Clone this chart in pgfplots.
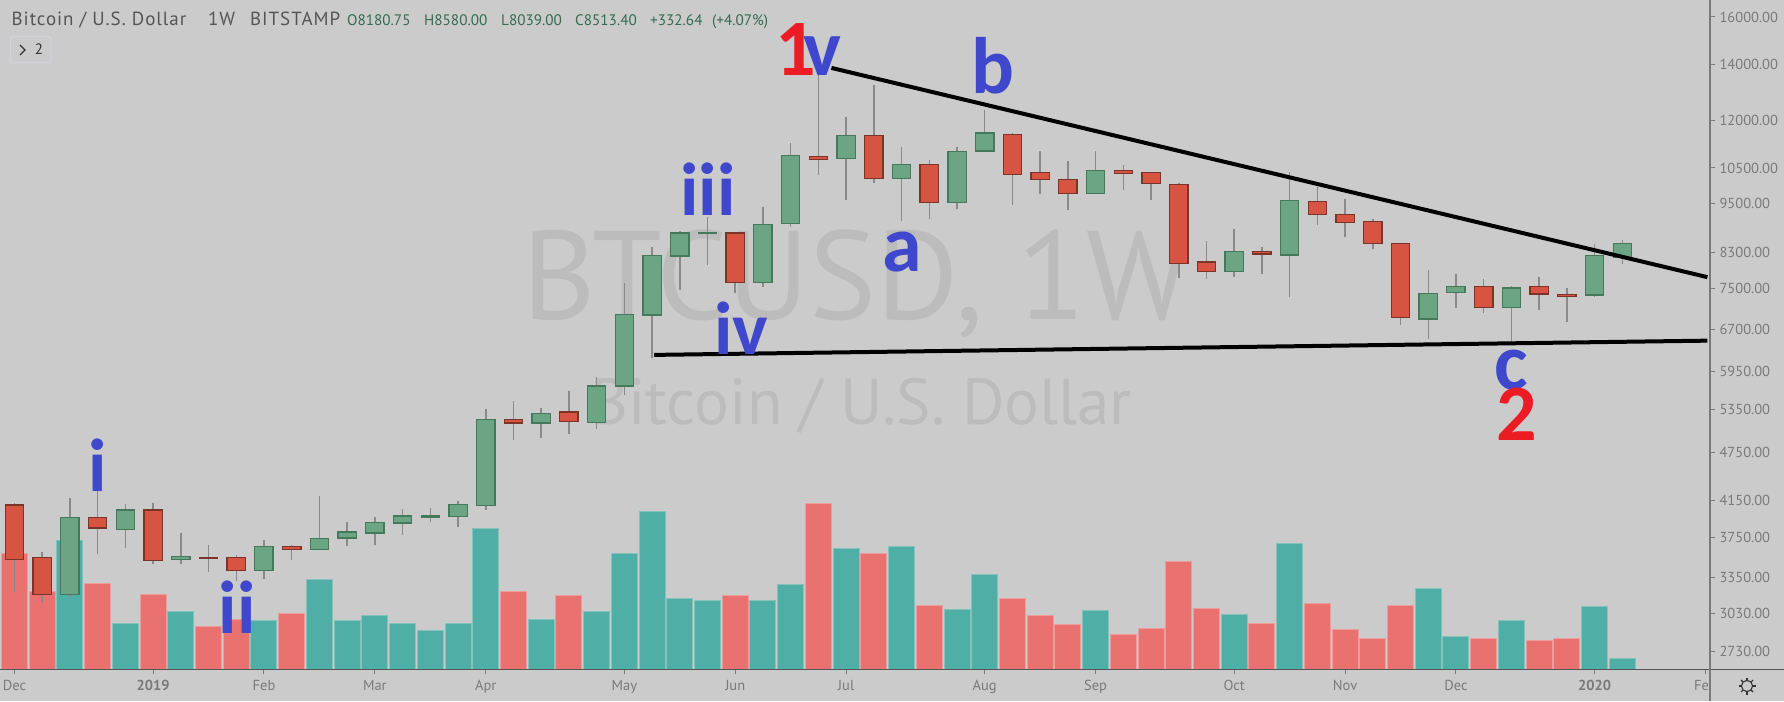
\documentclass[border=0pt]{standalone}
\usepackage{pgfplots}
\usepackage{pgfplotstable}
\usepackage{fontspec}
\pgfplotsset{compat=1.18}
\setmainfont{PT Sans}
\newfontfamily\annot{Carlito}
\newfontfamily\hdrfont[LetterSpace=5]{PT Sans}
\definecolor{bgc}{HTML}{CBCBCB}
\definecolor{upf}{HTML}{6BA583}
\definecolor{upb}{HTML}{44795B}
\definecolor{dnf}{HTML}{D75442}
\definecolor{dnb}{HTML}{7A3428}
\definecolor{wick}{HTML}{8A8A8C}
\definecolor{volt}{HTML}{4FAEA6}
\definecolor{volte}{HTML}{84C2BC}
\definecolor{volr}{HTML}{E97270}
\definecolor{volre}{HTML}{EE9C9A}
\definecolor{txt}{HTML}{7A7A7A}
\definecolor{hdr}{HTML}{555555}
\definecolor{hdg}{HTML}{356B4E}
\definecolor{wm}{HTML}{BCBCBC}
\definecolor{ablue}{HTML}{3F48CC}
\definecolor{ared}{HTML}{ED1C24}
\definecolor{boxc}{HTML}{D3D3DC}
\pgfplotstableread{
i O H L C
0 4104 4130 3219 3526
1 3546 3599 3119 3199
2 3199 4181 3178 3965
3 3965 4319 3576 3848
4 3834 4111 3637 4047
5 4047 4126 3478 3517
6 3526 3792 3478 3556
7 3546 3674 3404 3537
8 3546 3569 3323 3420
9 3420 3725 3335 3657
10 3657 3674 3523 3626
11 3626 4208 3626 3736
12 3743 3913 3664 3806
13 3795 3965 3674 3910
14 3903 4054 3777 3980
15 3968 4066 3913 3980
16 3972 4149 3859 4107
17 4099 5358 4050 5206
18 5210 5484 4914 5157
19 5157 5378 4946 5298
20 5318 5644 4997 5176
21 5163 5869 5068 5718
22 5717 7613 5576 6982
23 6969 8417 6182 8224
24 8216 8818 7473 8761
25 8744 9152 8013 8761
26 8761 8761 7417 7627
27 7627 9429 7543 8976
28 8993 11271 8917 10868
29 10838 13880 10298 10747
30 10789 12095 9605 11494
31 11494 13224 10080 10194
32 10194 11145 9050 10610
33 10610 10739 9110 9543
34 9543 11125 9358 10991
35 11011 12346 10970 11578
36 11534 11588 9472 10308
37 10366 11001 9776 10165
38 10175 10699 9341 9776
39 9776 11001 9776 10434
40 10434 10580 9877 10336
41 10366 10395 9605 10053
42 10034 10080 7727 8043
43 8080 8560 7706 7872
44 7872 8858 7756 8316
45 8316 8432 7815 8263
46 8239 10395 7322 9587
47 9559 9969 8959 9221
48 9230 9632 8672 9025
49 9042 9102 8378 8504
50 8513 8528 6771 6919
51 6892 7894 6513 7404
52 7417 7815 7113 7543
53 7543 7706 7003 7113
54 7113 7550 6471 7514
55 7543 7742 7068 7390
56 7383 7507 6841 7342
57 7370 8496 7335 8224
58 8180.75 8580 8039 8513.40
}\candles
\pgfplotstableread{
i v
2 128
4 45.7
6 57
9 48
11 89.7
12 48
13 53
14 45.7
15 38
16 45.7
17 140.7
19 49.3
21 57
22 115.7
23 157
24 70.7
25 68
27 68
28 84.3
30 120.7
32 122
34 59.7
35 94.3
39 58
44 54.3
46 125.7
51 80.7
52 32
54 48
57 62
58 10.7
}\volup
\pgfplotstableread{
i v
0 115.7
1 77
3 85.7
5 74.7
7 42
8 49.3
10 55.7
18 77
20 73
26 73
29 165.7
31 115.7
33 63
36 70.7
37 53
38 44.3
40 34.3
41 40.7
42 107
43 60.7
45 45.7
47 65.7
48 39.3
49 30.7
50 63
53 30.7
55 28
56 30.7
}\voldn
\pgfplotsset{common/.style={
  at={(0pt,32pt)}, anchor=south west, scale only axis,
  width=1710pt, height=669pt,
  xmin=-0.523, xmax=61.165,
  axis line style={draw=none},
  tick align=outside, major tick length=5pt,
  tick style={color=txt, line width=1pt},
  tick label style={font=\fontsize{14.5}{16}\selectfont, text=txt},
  minor tick num=0,
}}
\begin{document}
\begin{tikzpicture}[x=1pt,y=1pt]
\useasboundingbox (0,0) rectangle (1784,701);
\fill[bgc] (0,0) rectangle (1784,701);
% watermark
\node[anchor=base west, inner sep=0, text=wm, font=\fontsize{126}{130}\selectfont] at (522,381) {BTCUSD, 1W};
\node[anchor=base west, inner sep=0, text=wm, font=\fontsize{65}{70}\selectfont] at (590,276) {Bitcoin / U.S. Dollar};
% volume
\begin{axis}[common,
  ymin=0, ymax=669,
  xtick={0,5,9,13,17,22,26,30,35,39,44,48,52,57,61},
  xticklabels={Dec,\textbf{2019},Feb,Mar,Apr,May,Jun,Jul,Aug,Sep,Oct,Nov,Dec,\textbf{2020},Feb},
  xtick pos=bottom, ytick=\empty,
  xticklabel style={yshift=-3pt},
  clip=true]
\addplot[ybar, bar shift=0pt, bar width=26pt, fill=volt, draw=volte, line width=1pt] table[x=i,y=v] {\volup};
\addplot[ybar, bar shift=0pt, bar width=26pt, fill=volr, draw=volre, line width=1pt] table[x=i,y=v] {\voldn};
\end{axis}
\fill[bgc] (1710,0) rectangle (1784,701);
% price
\begin{axis}[common,
  ymode=log, ymin=2597, ymax=16777,
  xtick=\empty, ytick pos=right,
  ytick={2730,3030,3350,3750,4150,4750,5350,5950,6700,7500,8300,9500,10500,12000,14000,16000},
  yticklabels={2730.00,3030.00,3350.00,3750.00,4150.00,4750.00,5350.00,5950.00,6700.00,7500.00,8300.00,9500.00,10500.00,12000.00,14000.00,16000.00},
  yticklabel style={xshift=1pt},
  clip=true]
\pgfplotsinvokeforeach{0,...,58}{
  \pgfplotstablegetelem{#1}{O}\of\candles\let\vO\pgfplotsretval
  \pgfplotstablegetelem{#1}{H}\of\candles\let\vH\pgfplotsretval
  \pgfplotstablegetelem{#1}{L}\of\candles\let\vL\pgfplotsretval
  \pgfplotstablegetelem{#1}{C}\of\candles\let\vC\pgfplotsretval
  \pgfmathsetmacro\xa{#1-0.33}
  \pgfmathsetmacro\xb{#1+0.33}
  \pgfmathparse{\vC>=\vO?1:0}
  \ifdim\pgfmathresult pt>0.5pt
    \def\bodystyle{fill=upf,draw=upb}
  \else
    \def\bodystyle{fill=dnf,draw=dnb}
  \fi
  \edef\tmp{\noexpand\addplot[wick,line width=1.5pt,forget plot] coordinates {(#1,\vL)(#1,\vH)};
    \noexpand\addplot[\bodystyle,line width=1.3pt,forget plot] coordinates {(\xa,\vO)(\xb,\vO)(\xb,\vC)(\xa,\vC)} --cycle;}
  \tmp
}
\addplot[black,line width=4pt,forget plot] coordinates {(29.47,13880)(61.07,7745)};
\addplot[black,line width=4pt,forget plot] coordinates {(23.07,6235)(61.07,6488)};
\end{axis}
% scale lines
\draw[color=hdr,line width=1pt] (0,32) -- (1784,32);
\draw[color=txt,line width=1.4pt] (1710,0) -- (1710,701);
% wave labels
\begin{scope}[every node/.style={anchor=base,inner sep=0,font=\annot\bfseries\fontsize{80}{84}\selectfont}]
\node[text=ared] at (796,625) {1};
\node[text=ablue] at (822,625) {v};
\node[text=ablue] at (993,607) {b};
\node[text=ablue] at (902,429) {a};
\node[text=ablue] at (1511,311) {c};
\node[text=ared] at (1517,260) {2};
\end{scope}
\begin{scope}[every node/.style={anchor=base,inner sep=0,font=\annot\bfseries\fontsize{75}{80}\selectfont}]
\node[text=ablue] at (708,485) {iii};
\node[text=ablue] at (741,346) {iv};
\node[text=ablue] at (98,209) {i};
\node[text=ablue] at (237,67) {ii};
\end{scope}
% header
\begin{scope}[every node/.style={anchor=base west,inner sep=0,font=\hdrfont\fontsize{19}{22}\selectfont}]
\node[text=hdr] at (11.5,675) {Bitcoin / U.S. Dollar};
\node[text=hdr] at (208,675) {1W};
\node[text=hdr] at (250,675) {BITSTAMP};
\end{scope}
\begin{scope}[every node/.style={anchor=base west,inner sep=0,text=hdg,font=\fontsize{15.2}{18}\selectfont}]
\node at (347,675) {O8180.75};
\node at (424,675) {H8580.00};
\node at (501,675) {L8039.00};
\node at (575,675) {C8513.40};
\node at (650,675) {+332.64};
\node at (712,675) {(+4.07\%)};
\end{scope}
\draw[color=boxc,rounded corners=2pt,line width=1pt] (10.5,638) rectangle (51,664);
\draw[color=black!80,line width=1.3pt] (20,656) -- (25,651) -- (20,646);
\node[anchor=base,inner sep=0,text=black!80,font=\fontsize{15}{18}\selectfont] at (39,646) {2};
% settings icon
\draw[color=black!80,line width=1.1pt] (1747,15) circle (5.6);
\foreach \a in {0,45,...,315}{\draw[color=black!80,line width=1.1pt] (1747,15)+(\a:5.6) -- +(\a:8.5);}
\end{tikzpicture}
\end{document}
